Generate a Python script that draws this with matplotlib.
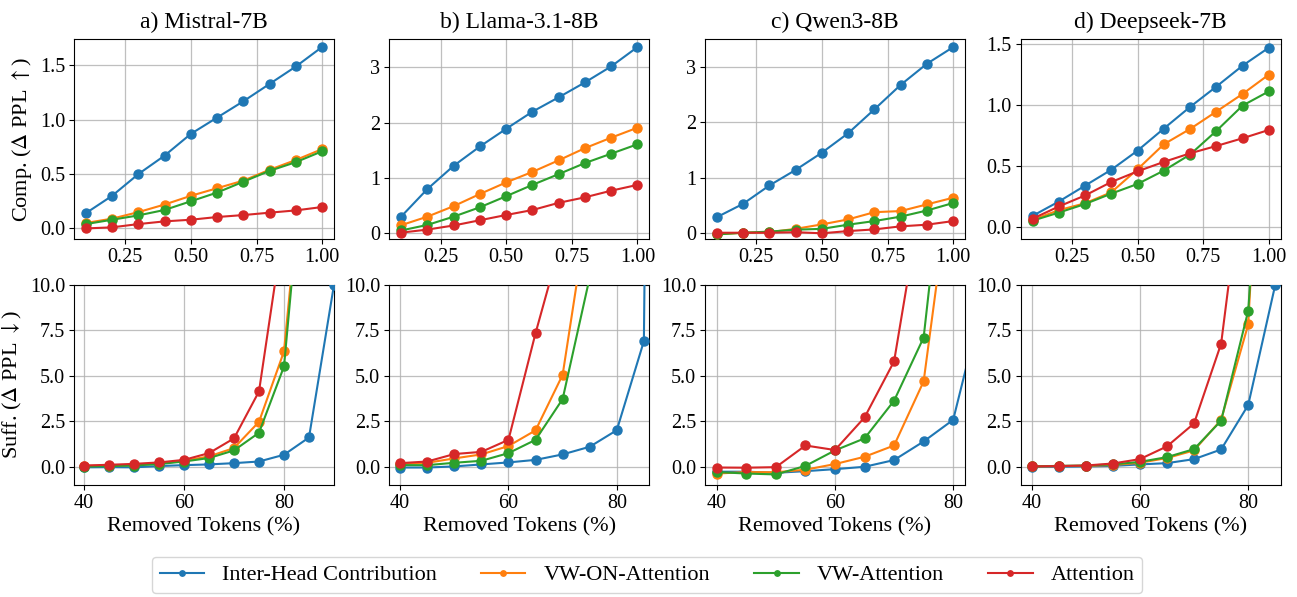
import numpy as np
import matplotlib
matplotlib.use("Agg")
import matplotlib.pyplot as plt

plt.rcParams['font.family'] = ['Liberation Serif', 'DejaVu Serif']
plt.rcParams['mathtext.fontset'] = 'stix'

## Données
models = ["a) Mistral-7B", "b) Llama-3.1-8B", "c) Qwen3-8B", "d) Deepseek-7B"]
methods = ["Inter-Head Contribution", "VW-ON-Attention", "VW-Attention", "Attention"]
colors = ["#1f77b4", "#ff7f0e", "#2ca02c", "#d62728"]

comp_x = [0.1, 0.2, 0.3, 0.4, 0.5, 0.6, 0.7, 0.8, 0.9, 1.0]

comp_mistral = [
    [0.14, 0.30, 0.50, 0.67, 0.87, 1.02, 1.17, 1.33, 1.49, 1.67],
    [0.05, 0.09, 0.15, 0.22, 0.30, 0.37, 0.44, 0.54, 0.63, 0.73],
    [0.04, 0.08, 0.12, 0.17, 0.25, 0.33, 0.43, 0.53, 0.61, 0.71],
    [0.00, 0.01, 0.04, 0.065, 0.08, 0.105, 0.123, 0.145, 0.166, 0.197],
]
comp_llama = [
    [0.30, 0.80, 1.22, 1.57, 1.89, 2.20, 2.46, 2.73, 3.02, 3.37],
    [0.145, 0.30, 0.49, 0.71, 0.92, 1.11, 1.32, 1.54, 1.73, 1.91],
    [0.05, 0.15, 0.30, 0.47, 0.67, 0.875, 1.07, 1.27, 1.44, 1.61],
    [0.01, 0.066, 0.14, 0.235, 0.33, 0.42, 0.55, 0.65, 0.77, 0.875],
]
comp_qwen = [
    [0.29, 0.53, 0.86, 1.14, 1.45, 1.80, 2.23, 2.67, 3.05, 3.35],
    [-0.02, 0.01, 0.02, 0.08, 0.16, 0.25, 0.38, 0.40, 0.52, 0.64],
    [-0.02, 0.01, 0.03, 0.065, 0.08, 0.155, 0.22, 0.30, 0.41, 0.545],
    [0.01, 0.01, 0.01, 0.02, 0.00, 0.04, 0.07, 0.125, 0.155, 0.22],
]
comp_deepseek = [
    [0.093, 0.21, 0.34, 0.47, 0.626, 0.806, 0.983, 1.149, 1.32, 1.467],
    [0.06, 0.14, 0.196, 0.286, 0.474, 0.678, 0.803, 0.945, 1.089, 1.247],
    [0.054, 0.12, 0.19, 0.275, 0.354, 0.463, 0.594, 0.787, 0.994, 1.11],
    [0.07, 0.17, 0.26, 0.37, 0.457, 0.534, 0.604, 0.664, 0.727, 0.795],
]

suff_x = [40, 45, 50, 55, 60, 65, 70, 75, 80, 85, 90]

suff_mistral = [
    [-0.03, -0.02, -0.03, 0.04, 0.09, 0.13, 0.20, 0.29, 0.66, 1.61, 10.0],
    [0.04, 0.07, 0.10, 0.18, 0.33, 0.57, 1.03, 2.47, 6.34, 20.5, 40.0],
    [0.01, 0.04, 0.07, 0.15, 0.29, 0.48, 0.90, 1.87, 5.51, 20.5, 40.0],
    [0.07, 0.11, 0.16, 0.24, 0.38, 0.75, 1.56, 4.14, 13.4, 30.0, 50.0],
]
suff_llama = [
    [-0.04, -0.04, 0.02, 0.13, 0.24, 0.38, 0.68, 1.10, 2.01, 6.90, 150.0],
    [0.16, 0.22, 0.46, 0.68, 1.14, 2.00, 5.05, 14.7, 30.0, 60.0, 100.0],
    [0.09, 0.09, 0.22, 0.33, 0.75, 1.48, 3.72, 10.4, 25.0, 50.0, 100.0],
    [0.20, 0.29, 0.70, 0.82, 1.48, 7.34, 12.7, 25.0, 50.0, 80.0, 120.0],
]
suff_qwen = [
    [-0.27, -0.27, -0.33, -0.24, -0.13, 0.00, 0.37, 1.39, 2.58, 9.1, 20.0],
    [-0.37, -0.29, -0.30, -0.16, 0.15, 0.55, 1.17, 4.69, 16.9, 40.0, 80.0],
    [-0.29, -0.37, -0.42, 0.05, 0.90, 1.56, 3.63, 7.10, 21.6, 45.0, 90.0],
    [-0.04, -0.05, -0.02, 1.17, 0.92, 2.71, 5.79, 15.5, 35.0, 60.0, 100.0],
]
suff_deepseek = [
    [0.00, 0.00, 0.02, 0.05, 0.13, 0.20, 0.42, 0.95, 3.39, 10.0, 30.0],
    [0.02, 0.04, 0.05, 0.10, 0.22, 0.48, 0.90, 2.58, 7.82, 35.0, 70.0],
    [0.02, 0.05, 0.07, 0.13, 0.27, 0.53, 0.97, 2.53, 8.57, 30.0, 60.0],
    [0.02, 0.04, 0.07, 0.18, 0.42, 1.12, 2.38, 6.76, 18.5, 40.0, 80.0],
]

comp_all = [comp_mistral, comp_llama, comp_qwen, comp_deepseek]
suff_all = [suff_mistral, suff_llama, suff_qwen, suff_deepseek]
comp_ylims = [(-0.10, 1.74), (-0.11, 3.51), (-0.108, 3.49), (-0.098, 1.535)]
suff_xlims = [(38, 90), (38, 86), (38, 82), (38, 86)]

## Figure
fig = plt.figure(figsize=(12.97, 5.97), dpi=100)
W, H = 1297, 597
lefts = [74, 389.3, 705, 1020.7]
width = 260

for i in range(4):
    ax1 = fig.add_axes([lefts[i] / W, 1 - 239.3 / H, width / W, 200 / H])
    ax2 = fig.add_axes([lefts[i] / W, 1 - 485 / H, width / W, 200.3 / H])
    for k in range(4):
        ax1.plot(comp_x, comp_all[i][k], color=colors[k], marker='o', markersize=6.5,
                 linewidth=1.5, label=methods[k], zorder=3)
        ax2.plot(suff_x, suff_all[i][k], color=colors[k], marker='o', markersize=6.5,
                 linewidth=1.5, zorder=3)
    ax1.set_xlim(0.055, 1.045)
    ax1.set_ylim(*comp_ylims[i])
    ax1.set_xticks([0.25, 0.5, 0.75, 1.0])
    ax1.set_title(models[i], fontsize=17, pad=8)
    ax2.set_ylim(-1, 10)
    ax2.set_xlim(*suff_xlims[i])
    ax2.set_xticks([40, 60, 80])
    ax2.set_yticks([0, 2.5, 5, 7.5, 10])
    ax2.set_xlabel("Removed Tokens (%)", fontsize=16, labelpad=3)
    for ax in (ax1, ax2):
        ax.grid(True, color='#b0b0b0', linewidth=0.9, alpha=0.8)
        ax.tick_params(labelsize=14.5, pad=3)
    if i == 0:
        ax1.set_ylabel(r"Comp. ($\Delta$ PPL $\uparrow$)", fontsize=16)
        ax2.set_ylabel(r"Suff. ($\Delta$ PPL $\downarrow$)", fontsize=16)
        handles, labels = ax1.get_legend_handles_labels()

fig.legend(handles, labels, loc='center', bbox_to_anchor=(647 / W, 1 - 575 / H), ncol=4,
           fontsize=16, markerscale=0.6, columnspacing=2.0, handlelength=2.0,
           frameon=True, fancybox=True, borderpad=0.35)
plt.savefig("out.png", dpi=100)
